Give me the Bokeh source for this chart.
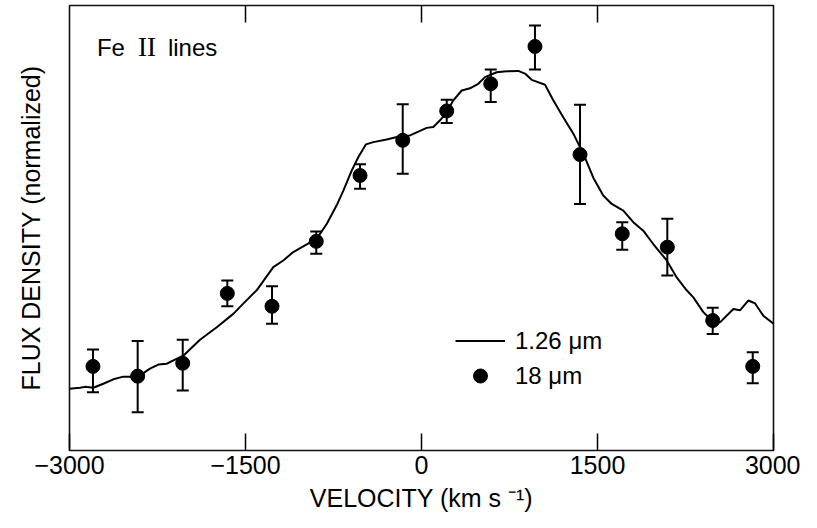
from bokeh.plotting import figure
from bokeh.models import (ColumnDataSource, Range1d, LinearAxis, FixedTicker, Whisker,
                          TeeHead, Legend, LegendItem, Label)
from bokeh.embed import file_html
from bokeh.resources import INLINE

# 1.26 micron profile (velocity km/s, normalized flux)
line_v = [-3000, -2910, -2868, -2797, -2712, -2627, -2541, -2456, -2399, -2314, -2243, -2172,
          -2101, -2030, -1888, -1745, -1604, -1519, -1405, -1263, -1178, -1093, -978, -893,
          -808, -723, -666, -595, -539, -473, -411, -297, -183, -98, -41, 44, 101, 158, 215,
          271, 343, 413, 484, 541, 641, 726, 825, 882, 939, 1053, 1123, 1208, 1294, 1379,
          1464, 1549, 1621, 1720, 1805, 1890, 1975, 2090, 2175, 2260, 2317, 2402, 2473,
          2544, 2658, 2714, 2785, 2842, 2913, 3000]
line_f = [0.139, 0.141, 0.143, 0.141, 0.150, 0.160, 0.166, 0.166, 0.169, 0.184, 0.193, 0.195,
          0.204, 0.213, 0.249, 0.277, 0.307, 0.330, 0.360, 0.412, 0.427, 0.446, 0.463, 0.476,
          0.509, 0.551, 0.584, 0.629, 0.659, 0.688, 0.693, 0.699, 0.706, 0.708, 0.715, 0.725,
          0.727, 0.742, 0.760, 0.787, 0.809, 0.814, 0.824, 0.839, 0.850, 0.852, 0.853, 0.847,
          0.833, 0.822, 0.787, 0.749, 0.712, 0.667, 0.613, 0.573, 0.554, 0.539, 0.513, 0.494,
          0.464, 0.427, 0.389, 0.360, 0.344, 0.311, 0.292, 0.288, 0.318, 0.315, 0.337, 0.331,
          0.303, 0.285]

# 18 micron points
pt_v = [-2800, -2419, -2035, -1655, -1274, -897, -524, -160, 215, 590, 967, 1351, 1711,
        2095, 2482, 2823]
pt_f = [0.189, 0.167, 0.196, 0.353, 0.324, 0.470, 0.618, 0.697, 0.763, 0.824, 0.908, 0.665,
        0.487, 0.457, 0.292, 0.189]
pt_hi = [0.227, 0.246, 0.249, 0.382, 0.369, 0.492, 0.643, 0.778, 0.788, 0.856, 0.955, 0.777,
         0.513, 0.521, 0.321, 0.221]
pt_lo = [0.131, 0.086, 0.135, 0.324, 0.285, 0.442, 0.588, 0.622, 0.736, 0.783, 0.856, 0.554,
         0.451, 0.393, 0.262, 0.151]

x_ticks = [-3000, -1500, 0, 1500, 3000]
x_tick_labels = {-3000: "\u22123000", -1500: "\u22121500", 0: "0", 1500: "1500", 3000: "3000"}
top_ticks = [-1500, 0, 1500]

FONT = "Liberation Sans"

p = figure(width=800, height=522, output_backend="svg", toolbar_location=None,
           x_range=Range1d(-3000, 3000), y_range=Range1d(0, 1.0),
           x_axis_location=None, y_axis_location=None,
           min_border_left=69, min_border_right=27, min_border_top=5, min_border_bottom=72)
p.grid.visible = False
p.outline_line_color = "#111111"
p.outline_line_width = 1.6
p.background_fill_color = "white"
p.border_fill_color = "white"

# bottom axis
xb = LinearAxis(ticker=FixedTicker(ticks=x_ticks), major_label_overrides=x_tick_labels,
                axis_label="VELOCITY (km s \u207b\u00b9)")
xb.major_tick_in = 17
xb.major_tick_out = 0
xb.major_tick_line_width = 1.5
xb.minor_tick_line_color = None
xb.axis_line_color = None
xb.major_label_text_font = FONT
xb.major_label_text_font_size = "25px"
xb.major_label_text_color = "black"
xb.major_label_standoff = 5
xb.axis_label_text_font = FONT
xb.axis_label_text_font_size = "25px"
xb.axis_label_text_font_style = "normal"
xb.axis_label_text_color = "black"
xb.axis_label_standoff = 7
p.add_layout(xb, "below")

# top axis (ticks only)
xt = LinearAxis(ticker=FixedTicker(ticks=top_ticks))
xt.major_tick_in = 17
xt.major_tick_out = 0
xt.major_tick_line_width = 1.5
xt.minor_tick_line_color = None
xt.axis_line_color = None
xt.major_label_text_color = None
xt.major_label_standoff = 0
p.add_layout(xt, "above")

# left axis (label only)
yl = LinearAxis(ticker=FixedTicker(ticks=[]), axis_label="FLUX DENSITY (normalized)")
yl.major_tick_in = 0
yl.major_tick_out = 0
yl.minor_tick_line_color = None
yl.axis_line_color = None
yl.major_label_text_color = None
yl.major_label_standoff = 0
yl.axis_label_text_font = FONT
yl.axis_label_text_font_size = "25px"
yl.axis_label_text_font_style = "normal"
yl.axis_label_text_color = "black"
yl.axis_label_standoff = 25
p.add_layout(yl, "left")

line_r = p.line(line_v, line_f, line_color="black", line_width=2)

src = ColumnDataSource(data=dict(v=pt_v, f=pt_f, hi=pt_hi, lo=pt_lo))
wh = Whisker(source=src, base="v", upper="hi", lower="lo", dimension="height",
             line_color="black", line_width=2,
             upper_head=TeeHead(size=12, line_width=2, line_color="black"),
             lower_head=TeeHead(size=12, line_width=2, line_color="black"))
p.add_layout(wh)
pts_r = p.scatter("v", "f", source=src, size=14, fill_color="black", line_color="black")

legend = Legend(items=[LegendItem(label="1.26 \u03bcm", renderers=[line_r]),
                       LegendItem(label="18 \u03bcm", renderers=[pts_r])],
                location=(386, 57), orientation="vertical")
legend.border_line_color = None
legend.background_fill_alpha = 0
legend.padding = 0
legend.margin = 0
legend.spacing = 0
legend.label_height = 35
legend.glyph_height = 35
legend.glyph_width = 50
legend.label_standoff = 10
legend.label_text_font = FONT
legend.label_text_font_size = "24px"
legend.label_text_color = "black"
p.add_layout(legend, "center")

p.add_layout(Label(x=-2766, y=0.906, text="Fe", text_font=FONT, text_font_size="24px",
                   text_color="black", text_baseline="alphabetic"))
p.add_layout(Label(x=-2416, y=0.906, text="II", text_font="Liberation Serif",
                   text_font_size="27px", text_color="black", text_baseline="alphabetic"))
p.add_layout(Label(x=-2161, y=0.906, text="lines", text_font=FONT, text_font_size="24px",
                   text_color="black", text_baseline="alphabetic"))

open("out.html", "w").write(file_html(p, INLINE))
